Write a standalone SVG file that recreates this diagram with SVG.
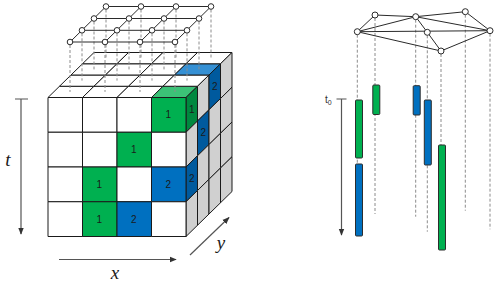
<svg xmlns="http://www.w3.org/2000/svg" width="498" height="285" viewBox="0 0 498 285">
<defs>
<style>
.cell{stroke:#1a1a1a;stroke-width:1;vector-effect:non-scaling-stroke}
.w{fill:#ffffff}
.g{fill:#d0d0d0}
.gf{fill:#00b050}
.gt{fill:#3cc277}
.gs{fill:#00883f}
.bf{fill:#0070c0}
.bt{fill:#3590d4}
.bs{fill:#005a9e}
.lbl{font-family:"Liberation Sans",Arial,sans-serif;font-size:10px;fill:#1a1a1a;text-anchor:middle}
.ax{font-family:"Liberation Serif","Times New Roman",serif;font-style:italic;font-size:19px;fill:#1a1a1a;text-anchor:middle}
.dash{stroke:#8c8c8c;stroke-width:1;stroke-dasharray:3 2;fill:none}
.edge{stroke:#2a2a2a;stroke-width:1;fill:none}
.node{fill:#ffffff;stroke:#2a2a2a;stroke-width:1}
.axis{stroke:#555;stroke-width:1.2;fill:none}
.bar{stroke:#2d2d2d;stroke-width:1}
</style>
<marker id="ah" viewBox="0 0 10 10" refX="9" refY="5" markerWidth="6" markerHeight="6" orient="auto">
<path d="M0,1 L10,5 L0,9 z" fill="#333"/>
</marker>
</defs>

<!-- top face -->
<g id="topface" transform="matrix(34.5 0 11.5 -11.25 48 97.5)">
<rect class="cell w" x="0" y="0" width="1" height="1"/><rect class="cell w" x="1" y="0" width="1" height="1"/><rect class="cell w" x="2" y="0" width="1" height="1"/><rect class="cell gt" x="3" y="0" width="1" height="1"/>
<rect class="cell w" x="0" y="1" width="1" height="1"/><rect class="cell w" x="1" y="1" width="1" height="1"/><rect class="cell w" x="2" y="1" width="1" height="1"/><rect class="cell w" x="3" y="1" width="1" height="1"/>
<rect class="cell w" x="0" y="2" width="1" height="1"/><rect class="cell w" x="1" y="2" width="1" height="1"/><rect class="cell w" x="2" y="2" width="1" height="1"/><rect class="cell bt" x="3" y="2" width="1" height="1"/>
<rect class="cell w" x="0" y="3" width="1" height="1"/><rect class="cell w" x="1" y="3" width="1" height="1"/><rect class="cell w" x="2" y="3" width="1" height="1"/><rect class="cell w" x="3" y="3" width="1" height="1"/>
</g>

<!-- right side face -->
<g id="sideface" transform="matrix(11.5 -11.25 0 34.75 186 97.5)">
<rect class="cell gs" x="0" y="0" width="1" height="1"/><rect class="cell g" x="1" y="0" width="1" height="1"/><rect class="cell bs" x="2" y="0" width="1" height="1"/><rect class="cell g" x="3" y="0" width="1" height="1"/>
<rect class="cell g" x="0" y="1" width="1" height="1"/><rect class="cell bs" x="1" y="1" width="1" height="1"/><rect class="cell g" x="2" y="1" width="1" height="1"/><rect class="cell g" x="3" y="1" width="1" height="1"/>
<rect class="cell bs" x="0" y="2" width="1" height="1"/><rect class="cell g" x="1" y="2" width="1" height="1"/><rect class="cell g" x="2" y="2" width="1" height="1"/><rect class="cell g" x="3" y="2" width="1" height="1"/>
<rect class="cell g" x="0" y="3" width="1" height="1"/><rect class="cell g" x="1" y="3" width="1" height="1"/><rect class="cell g" x="2" y="3" width="1" height="1"/><rect class="cell g" x="3" y="3" width="1" height="1"/>
</g>

<!-- front face -->
<g id="frontface">
<rect class="cell w" x="48" y="97.5" width="34.5" height="34.75"/><rect class="cell w" x="82.5" y="97.5" width="34.5" height="34.75"/><rect class="cell w" x="117" y="97.5" width="34.5" height="34.75"/><rect class="cell gf" x="151.5" y="97.5" width="34.5" height="34.75"/>
<rect class="cell w" x="48" y="132.25" width="34.5" height="34.75"/><rect class="cell w" x="82.5" y="132.25" width="34.5" height="34.75"/><rect class="cell gf" x="117" y="132.25" width="34.5" height="34.75"/><rect class="cell w" x="151.5" y="132.25" width="34.5" height="34.75"/>
<rect class="cell w" x="48" y="167" width="34.5" height="34.75"/><rect class="cell gf" x="82.5" y="167" width="34.5" height="34.75"/><rect class="cell w" x="117" y="167" width="34.5" height="34.75"/><rect class="cell bf" x="151.5" y="167" width="34.5" height="34.75"/>
<rect class="cell w" x="48" y="201.75" width="34.5" height="34.75"/><rect class="cell gf" x="82.5" y="201.75" width="34.5" height="34.75"/><rect class="cell bf" x="117" y="201.75" width="34.5" height="34.75"/><rect class="cell w" x="151.5" y="201.75" width="34.5" height="34.75"/>
</g>

<g id="cell-labels">
<text class="lbl" x="168.25" y="118.4">1</text>
<text class="lbl" x="133.75" y="153.1">1</text>
<text class="lbl" x="99.25" y="187.9">1</text>
<text class="lbl" x="168.25" y="187.9">2</text>
<text class="lbl" x="99.25" y="222.6">1</text>
<text class="lbl" x="133.75" y="222.6">2</text>
<text class="lbl" x="191.75" y="112.8">1</text>
<text class="lbl" x="214.75" y="90.3">2</text>
<text class="lbl" x="203.25" y="136.2">2</text>
<text class="lbl" x="191.75" y="182.3">2</text>
</g>

<!-- connectors -->
<g id="connectors">
<!-- left grid projections -->
<path class="dash" d="M106,9.5V58.1 M141,9.5V58.1 M176,9.5V58.1 M211,9.5V58.1
M94,21.5V69.4 M129,21.5V69.4 M164,21.5V69.4 M199,21.5V69.4
M82,33.3V80.6 M117,33.3V80.6 M152,33.3V80.6 M187,33.3V80.6
M70,45V91.9 M105,45V91.9 M140,45V91.9 M175,45V91.9"/>
<!-- left grid edges -->
<path class="edge" d="M106,6.5H211 M94,18.5H199 M82,30.3H187 M70,42H175
M106,6.5L70,42 M141,6.5L105,42 M176,6.5L140,42 M211,6.5L175,42"/>
<!-- right graph projections -->
<path class="dash" d="M357.3,34.7V236 M375,18V214 M415.7,19.7V216.7 M427.3,35.3V231.7 M441,54V250 M465.3,14.7V210.7 M490,33.7V229.3"/>
<!-- right graph edges -->
<path class="edge" d="M375,15L415.7,16.7 M415.7,16.7L465.3,11.7 M465.3,11.7L490,30.7 M375,15L357.3,31.7 M357.3,31.7L415.7,16.7 M357.3,31.7L490,30.7 M357.3,31.7L441,51 M415.7,16.7L427.3,32.3 M427.3,32.3L441,51 M415.7,16.7L490,30.7 M441,51L490,30.7"/>
<!-- axes -->
<path class="axis" d="M15,99H28 M21,99V234" marker-end="url(#ah)"/>
<path class="axis" d="M59,259.5H176" stroke="#333" marker-end="url(#ah)"/>
<path class="axis" d="M190,255L229,217.5" stroke="#333" marker-end="url(#ah)"/>
<path class="axis" d="M336.5,99H346.5 M341.5,99V235" marker-end="url(#ah)"/>
</g>

<!-- left grid nodes -->
<g id="n00"><circle class="node" cx="106" cy="6.5" r="2.8"/></g>
<g id="n01"><circle class="node" cx="141" cy="6.5" r="2.8"/></g>
<g id="n02"><circle class="node" cx="176" cy="6.5" r="2.8"/></g>
<g id="n03"><circle class="node" cx="211" cy="6.5" r="2.8"/></g>
<g id="n10"><circle class="node" cx="94" cy="18.5" r="2.8"/></g>
<g id="n11"><circle class="node" cx="129" cy="18.5" r="2.8"/></g>
<g id="n12"><circle class="node" cx="164" cy="18.5" r="2.8"/></g>
<g id="n13"><circle class="node" cx="199" cy="18.5" r="2.8"/></g>
<g id="n20"><circle class="node" cx="82" cy="30.3" r="2.8"/></g>
<g id="n21"><circle class="node" cx="117" cy="30.3" r="2.8"/></g>
<g id="n22"><circle class="node" cx="152" cy="30.3" r="2.8"/></g>
<g id="n23"><circle class="node" cx="187" cy="30.3" r="2.8"/></g>
<g id="n30"><circle class="node" cx="70" cy="42" r="2.8"/></g>
<g id="n31"><circle class="node" cx="105" cy="42" r="2.8"/></g>
<g id="n32"><circle class="node" cx="140" cy="42" r="2.8"/></g>
<g id="n33"><circle class="node" cx="175" cy="42" r="2.8"/></g>

<!-- right graph nodes -->
<g id="gA"><circle class="node" cx="375" cy="15" r="3"/></g>
<g id="gB"><circle class="node" cx="415.7" cy="16.7" r="3"/></g>
<g id="gC"><circle class="node" cx="465.3" cy="11.7" r="3"/></g>
<g id="gD"><circle class="node" cx="357.3" cy="31.7" r="3"/></g>
<g id="gE"><circle class="node" cx="427.3" cy="32.3" r="3"/></g>
<g id="gF"><circle class="node" cx="441" cy="51" r="3"/></g>
<g id="gG"><circle class="node" cx="490" cy="30.7" r="3"/></g>

<!-- bars -->
<g id="bars">
<rect class="bar gf" x="355.5" y="100" width="7" height="58" rx="1"/>
<rect class="bar bf" x="355.5" y="164" width="7" height="72" rx="1"/>
<rect class="bar gf" x="372.8" y="85" width="7" height="29.5" rx="1"/>
<rect class="bar bf" x="413.2" y="85.7" width="7" height="29.3" rx="1"/>
<rect class="bar bf" x="424.3" y="100" width="7" height="65" rx="1"/>
<rect class="bar gf" x="438.5" y="145" width="7" height="105" rx="1"/>
</g>

<!-- axis labels -->
<text class="ax" x="8" y="166">t</text>
<text class="ax" x="115" y="279">x</text>
<text class="ax" x="221" y="249">y</text>
<text font-family="Liberation Sans, Arial, sans-serif" font-size="10" fill="#333" x="325" y="103">t<tspan font-size="7" dy="2">0</tspan></text>
</svg>
